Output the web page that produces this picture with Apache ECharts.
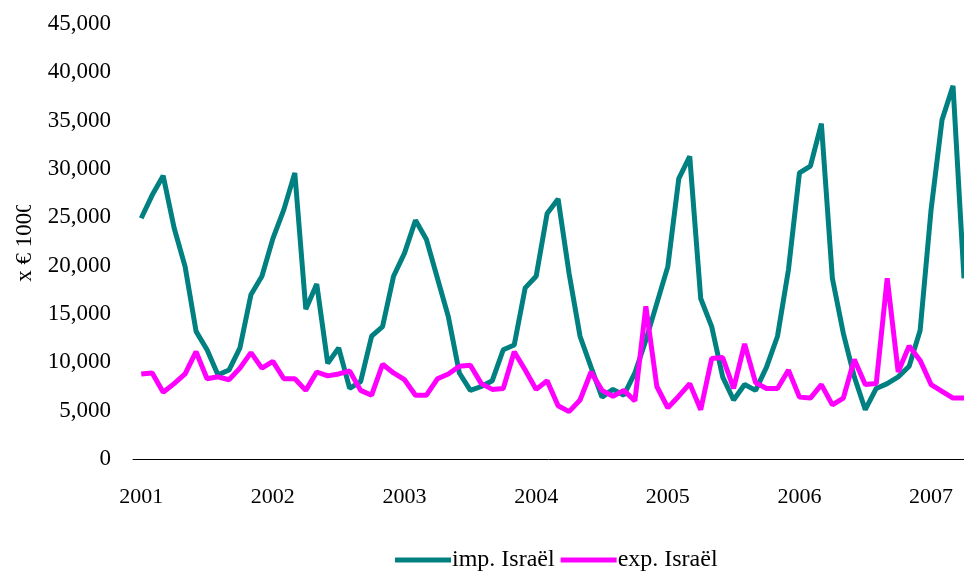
<!DOCTYPE html>
<html>
<head>
<meta charset="utf-8">
<script src="https://cdn.jsdelivr.net/npm/echarts@6/dist/echarts.min.js"></script>
<style>
  html, body { margin: 0; padding: 0; background: #ffffff; }
  #chart { width: 964px; height: 571px; }
</style>
</head>
<body>
<div id="chart"></div>
<script>
// Monthly trade with Israël, January 2001 – April 2007 (x € 1000)
const years = ['2001', '2002', '2003', '2004', '2005', '2006', '2007'];
const monthsInLastYear = 4;

const importIsrael = [
  24900, 27300, 29300, 23900, 19900, 13200, 11300, 8700, 9200, 11500, 17000, 18900,
  22800, 25800, 29600, 15500, 18100, 9900, 11500, 7300, 8000, 12700, 13700, 18900,
  21300, 24700, 22700, 18700, 14700, 8900, 7100, 7500, 8100, 11300, 11800, 17700,
  18900, 25400, 26900, 19200, 12700, 9500, 6400, 7200, 6600, 8900, 12300, 16100,
  19900, 29000, 31300, 16600, 13700, 8500, 6100, 7700, 7100, 9500, 12700, 19600,
  29600, 30300, 34700, 18700, 13000, 8500, 5100, 7300, 7800, 8500, 9600, 13300,
  25800, 35100, 38600, 18700
];

const exportIsrael = [
  8800, 8900, 6900, 7800, 8800, 11100, 8300, 8500, 8200, 9400, 11000, 9400,
  10100, 8300, 8300, 7100, 9000, 8600, 8800, 9100, 7100, 6600, 9800, 8900,
  8200, 6600, 6600, 8300, 8800, 9600, 9700, 7800, 7200, 7300, 11100, 9200,
  7200, 8100, 5500, 4900, 6100, 9000, 7100, 6500, 7100, 6000, 15800, 7500,
  5300, 6500, 7800, 5100, 10400, 10500, 7300, 11900, 7900, 7300, 7300, 9200,
  6400, 6300, 7700, 5600, 6300, 10300, 7700, 7800, 18700, 9000, 11700, 10200,
  7700, 7000, 6300, 6300
];

const yTicks = [0, 5000, 10000, 15000, 20000, 25000, 30000, 35000, 40000, 45000];

// x is the month index counted from January of the first year
const yearStarts = years.map((y, i) => i * 12);
const monthCount = (years.length - 1) * 12 + monthsInLastYear;
const pairs = arr => arr.map((v, i) => [i, v]);

const serif = '"Liberation Serif", "Times New Roman", serif';
const chart = echarts.init(document.getElementById('chart'), null, { renderer: 'canvas' });

chart.setOption({
  animation: false,
  backgroundColor: '#ffffff',
  textStyle: { fontFamily: serif },
  grid: { left: 133, right: 0, top: 24, bottom: 112, containLabel: false },
  xAxis: {
    type: 'value',
    min: -0.75,
    max: monthCount - 1,
    axisLine: { show: true, onZero: false, lineStyle: { color: '#000000', width: 1 } },
    axisTick: { show: false },
    splitLine: { show: false },
    axisLabel: {
      customValues: yearStarts,
      margin: 27,
      color: '#000000',
      fontFamily: serif,
      fontSize: 22,
      formatter: v => years[Math.round(v / 12)]
    }
  },
  yAxis: {
    type: 'value',
    min: yTicks[0],
    max: yTicks[yTicks.length - 1],
    interval: yTicks[1] - yTicks[0],
    name: 'x € 1000',
    nameLocation: 'middle',
    nameGap: 91,
    nameRotate: 90,
    nameTextStyle: { color: '#000000', fontFamily: serif, fontSize: 23 },
    axisLine: { show: false },
    axisTick: { show: false },
    splitLine: { show: false },
    axisLabel: {
      margin: 22,
      color: '#000000',
      fontFamily: serif,
      fontSize: 23,
      formatter: v => v.toLocaleString('en-US')
    }
  },
  legend: {
    left: 390,
    top: 543,
    itemGap: 6,
    itemWidth: 56,
    itemHeight: 5,
    icon: 'rect',
    textStyle: { color: '#000000', fontFamily: serif, fontSize: 24, padding: [0, 0, 0, -4] },
    data: ['imp. Israël', 'exp. Israël']
  },
  series: [
    {
      name: 'imp. Israël',
      type: 'line',
      data: pairs(importIsrael),
      showSymbol: false,
      symbol: 'none',
      lineStyle: { color: '#008080', width: 5 },
      itemStyle: { color: '#008080' },
      z: 2
    },
    {
      name: 'exp. Israël',
      type: 'line',
      data: pairs(exportIsrael),
      showSymbol: false,
      symbol: 'none',
      lineStyle: { color: '#ff00ff', width: 5 },
      itemStyle: { color: '#ff00ff' },
      z: 3
    }
  ],
  graphic: [
    // the axis title runs past the top of its box; mask the overflow
    { type: 'rect', left: 8, top: 170, shape: { width: 40, height: 35 }, style: { fill: '#ffffff' }, z: 100 }
  ]
});
</script>
</body>
</html>
